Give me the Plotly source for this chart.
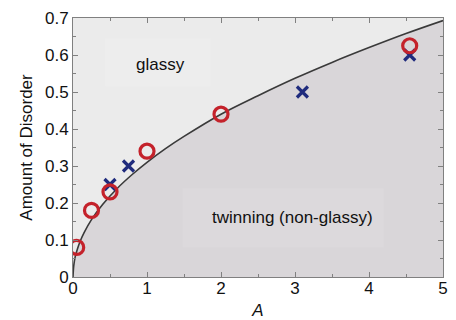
import plotly.graph_objects as go

# Boundary curve
curve_A = [0, 0.01, 0.03, 0.06, 0.1, 0.15, 0.25, 0.4, 0.6, 0.8, 1.0, 1.25, 1.5, 2.0, 2.5, 3.0, 3.5, 4.0, 4.5, 5.0]
curve_y = [0, 0.03, 0.055, 0.076, 0.098, 0.12, 0.155, 0.196, 0.24, 0.277, 0.31, 0.347, 0.38, 0.44, 0.49, 0.537, 0.58, 0.62, 0.658, 0.693]

# Red circles
circ_A = [0.05, 0.25, 0.5, 1.0, 2.0, 4.55]
circ_y = [0.08, 0.18, 0.23, 0.34, 0.44, 0.625]

# Navy crosses
cross_A = [0.5, 0.75, 3.1, 4.55]
cross_y = [0.25, 0.30, 0.50, 0.60]

labels = ["glassy", "twinning (non-glassy)"]
label_A = [1.18, 2.97]
label_y = [0.573, 0.16]

FONT = "Liberation Sans, Arial, Helvetica, sans-serif"

fig = go.Figure()
fig.add_trace(go.Scatter(x=curve_A, y=curve_y, mode="lines", fill="tozeroy",
                         fillcolor="#d9d6d9", line=dict(color="#3a3a3a", width=1.6, shape="spline"),
                         hoverinfo="skip", showlegend=False))
fig.add_trace(go.Scatter(x=cross_A, y=cross_y, mode="markers",
                         marker=dict(symbol="x-thin", size=11, line=dict(color="#1f2b7d", width=3.2)),
                         showlegend=False))
fig.add_trace(go.Scatter(x=circ_A, y=circ_y, mode="markers",
                         marker=dict(symbol="circle-open", size=14, color="#c4222b", line=dict(width=3.2)),
                         showlegend=False))

# faint label boxes
fig.add_shape(type="rect", xref="x", yref="y", x0=0.435, x1=1.86, y0=0.515, y1=0.645,
              fillcolor="rgba(255,255,255,0.12)", line=dict(width=0), layer="above")
fig.add_shape(type="rect", xref="x", yref="y", x0=1.48, x1=4.2, y0=0.08, y1=0.24,
              fillcolor="rgba(255,255,255,0.08)", line=dict(width=0), layer="above")

for t, a, yv in zip(labels, label_A, label_y):
    fig.add_annotation(x=a, y=yv, text=t, showarrow=False,
                       font=dict(family=FONT, size=17, color="#111"))

axis_common = dict(showgrid=False, zeroline=False, showline=True, linecolor="#808080", linewidth=1,
                   mirror="ticks", ticks="inside", ticklen=5, tickcolor="#808080", automargin=False,
                   tickfont=dict(family=FONT, size=17, color="#111"))

fig.update_xaxes(range=[0, 5], tickmode="linear", tick0=0, dtick=1, ticklabelstandoff=-4,
                 minor=dict(ticks="inside", ticklen=3, dtick=0.5, tickcolor="#808080"),
                 title=dict(text="<i>A</i>", font=dict(family=FONT, size=17, color="#111"), standoff=12),
                 **axis_common)
fig.update_yaxes(range=[0, 0.7], tickmode="linear", tick0=0, dtick=0.1,
                 minor=dict(ticks="inside", ticklen=3, dtick=0.05, tickcolor="#808080"),
                 title=dict(text="Amount of Disorder", font=dict(family=FONT, size=17, color="#111"), standoff=8),
                 **axis_common)

fig.update_layout(width=456, height=320, margin=dict(l=73, r=13, t=18, b=43),
                  paper_bgcolor="white", plot_bgcolor="#ebebeb",
                  font=dict(family=FONT))

fig.write_html("out.html")
